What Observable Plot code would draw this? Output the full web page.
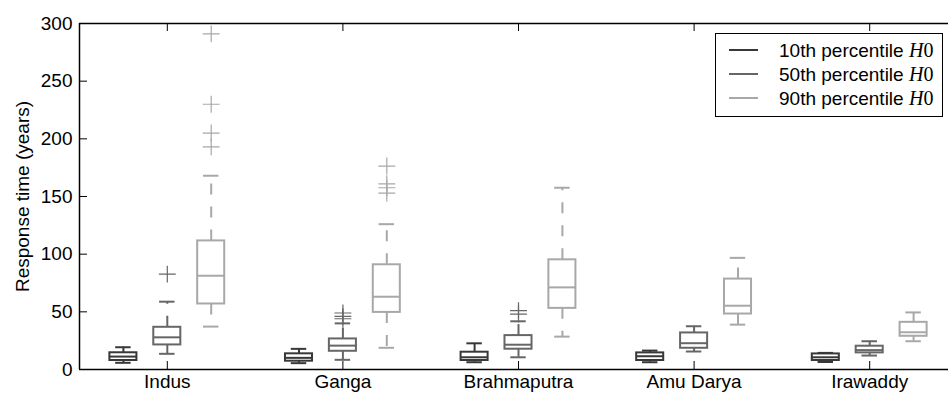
<!DOCTYPE html>
<html>
<head>
<meta charset="utf-8">
<script src="https://cdn.jsdelivr.net/npm/d3@7"></script>
<script src="https://cdn.jsdelivr.net/npm/@observablehq/plot@0.6"></script>
<style>
  html, body { margin: 0; padding: 0; background: white; overflow: hidden; }
  #wrap { position: relative; width: 948px; height: 394px; }
  #legend { position: absolute; left: 715px; top: 33px; width: 228px; height: 84px;
    border: 1.5px solid #000; box-sizing: border-box; background: white;
    font-family: "Liberation Sans", Arial, sans-serif; font-size: 19px; }
  .row { position: absolute; left: 0; height: 22px; width: 100%; }
  .sw { position: absolute; left: 13px; width: 29px; top: 10px; height: 2px; }
  .lab { position: absolute; left: 63px; top: 0; line-height: 22px; white-space: nowrap; color: #000; }
  .m { font-family: "Liberation Serif", "DejaVu Serif", serif; font-size: 20px; }
</style>
</head>
<body>
<div id="wrap"></div>
<script>
const categories = ["Indus", "Ganga", "Brahmaputra", "Amu Darya", "Irawaddy"];
const seriesNames = ["10th percentile", "50th percentile", "90th percentile"];
const seriesColors = ["#383838", "#666666", "#a8a8a8"];
const yTicks = [0, 50, 100, 150, 200, 250, 300];

// 10th percentile H0
const p10_lo  = [5.8, 5.5, 6.3, 6.3, 6.5];
const p10_q1  = [7.8, 7.2, 7.8, 7.8, 7.8];
const p10_med = [11.2, 10.1, 10.6, 11.5, 10.6];
const p10_q3  = [14.5, 13.6, 15.0, 14.4, 13.5];
const p10_hi  = [19.3, 17.9, 22.7, 16.4, 14.4];
// 50th percentile H0
const p50_lo  = [13.6, 8.4, 10.6, 15.6, 12.1];
const p50_q1  = [21.3, 15.8, 17.6, 18.4, 14.4];
const p50_med = [27.9, 20.7, 21.5, 22.8, 16.8];
const p50_q3  = [36.6, 26.5, 29.4, 31.7, 20.2];
const p50_hi  = [58.8, 40.0, 41.8, 37.5, 24.5];
// 90th percentile H0
const p90_lo  = [37.2, 18.8, 28.5, 38.9, 24.5];
const p90_q1  = [56.8, 49.5, 53.0, 48.1, 28.8];
const p90_med = [81.3, 63.1, 71.2, 55.3, 32.3];
const p90_q3  = [111.5, 90.8, 95.1, 78.4, 40.9];
const p90_hi  = [168, 126, 157.6, 96.8, 49.5];

// outliers: [category, value]
const p10_fliers = [];
const p50_fliers = [["Indus", 82.7], ["Ganga", 44], ["Ganga", 46], ["Ganga", 49], ["Brahmaputra", 48], ["Brahmaputra", 51]];
const p90_fliers = [["Indus", 193], ["Indus", 205], ["Indus", 230], ["Indus", 291],
                    ["Ganga", 153], ["Ganga", 157.6], ["Ganga", 161], ["Ganga", 176.4]];

const stats = [
  [p10_lo, p10_q1, p10_med, p10_q3, p10_hi],
  [p50_lo, p50_q1, p50_med, p50_q3, p50_hi],
  [p90_lo, p90_q1, p90_med, p90_q3, p90_hi]
];
const fliersBySeries = [p10_fliers, p50_fliers, p90_fliers];

const offset = 0.25, halfBox = 0.077, halfCap = 0.044;
const boxes = [];
stats.forEach((s, k) => {
  categories.forEach((c, i) => {
    const pos = i + 1 + (k - 1) * offset;
    boxes.push({series: k, pos, lo: s[0][i], q1: s[1][i], med: s[2][i], q3: s[3][i], hi: s[4][i],
      bx1: pos - halfBox, bx2: pos + halfBox, cx1: pos - halfCap, cx2: pos + halfCap});
  });
});
const fliers = [];
fliersBySeries.forEach((f, k) => f.forEach(([c, v]) => {
  fliers.push({series: k, pos: categories.indexOf(c) + 1 + (k - 1) * offset, v});
}));

const W = 948, H = 394, mL = 79, mT = 23, mB = 25;
const plotH = H - mT - mB;
const col = d => seriesColors[d.series];

const chart = Plot.plot({
  width: W, height: H,
  marginLeft: mL, marginRight: 0, marginTop: mT, marginBottom: mB,
  style: {fontFamily: "'Liberation Sans', Arial, sans-serif", fontSize: "19px", background: "white", color: "#000"},
  x: {domain: [0.5, 5.5], range: [mL, 957], axis: null},
  y: {domain: [0, 300], axis: null},
  marks: [
    // whiskers (dashed)
    Plot.ruleX(boxes, {x: "pos", y1: "q3", y2: "hi", stroke: col, strokeWidth: 2, strokeDasharray: "11,12"}),
    Plot.ruleX(boxes, {x: "pos", y1: "q1", y2: "lo", stroke: col, strokeWidth: 2, strokeDasharray: "11,12"}),
    // caps
    Plot.ruleY(boxes, {y: "hi", x1: "cx1", x2: "cx2", stroke: col, strokeWidth: 2}),
    Plot.ruleY(boxes, {y: "lo", x1: "cx1", x2: "cx2", stroke: col, strokeWidth: 2}),
    // boxes
    Plot.rect(boxes, {x1: "bx1", x2: "bx2", y1: "q1", y2: "q3", fill: "white", stroke: col, strokeWidth: 2}),
    Plot.ruleY(boxes, {y: "med", x1: "bx1", x2: "bx2", stroke: col, strokeWidth: 2}),
    // fliers
    Plot.dot(fliers, {x: "pos", y: "v", symbol: "plus", r: 5.5, stroke: col, strokeWidth: 1.2}),
    // frame lines
    Plot.ruleX([0.5], {stroke: "#000", strokeWidth: 1.5}),
    Plot.ruleY([0, 300], {stroke: "#000", strokeWidth: 1.5}),
    // inward ticks
    Plot.tickY(yTicks, {y: d => d, insetRight: W - mL - 8, stroke: "#000", strokeWidth: 1}),
    Plot.tickX([1, 2, 3, 4, 5], {x: d => d, insetTop: plotH - 8, stroke: "#000", strokeWidth: 1}),
    Plot.tickX([1, 2, 3, 4, 5], {x: d => d, insetBottom: plotH - 8, stroke: "#000", strokeWidth: 1}),
    // tick labels
    Plot.text(yTicks, {y: d => d, text: d => String(d), frameAnchor: "left", textAnchor: "end", dx: -7, fontSize: 19, fill: "#000"}),
    Plot.text([1, 2, 3, 4, 5], {x: d => d, text: d => categories[d - 1], frameAnchor: "bottom", lineAnchor: "top", dy: 5, fontSize: 19, fill: "#000"}),
    // y label
    Plot.text(["Response time (years)"], {frameAnchor: "left", textAnchor: "middle", dx: -57, rotate: -90, fontSize: 19, fill: "#000"})
  ]
});

const wrap = document.getElementById("wrap");
wrap.appendChild(chart);

const legend = document.createElement("div");
legend.id = "legend";
seriesNames.forEach((name, k) => {
  const row = document.createElement("div");
  row.className = "row";
  row.style.top = (5 + k * 24) + "px";
  const sw = document.createElement("div");
  sw.className = "sw";
  sw.style.background = seriesColors[k];
  const lab = document.createElement("div");
  lab.className = "lab";
  lab.innerHTML = name + " <span class='m'><i>H</i>0</span>";
  row.appendChild(sw);
  row.appendChild(lab);
  legend.appendChild(row);
});
wrap.appendChild(legend);
</script>
</body>
</html>
